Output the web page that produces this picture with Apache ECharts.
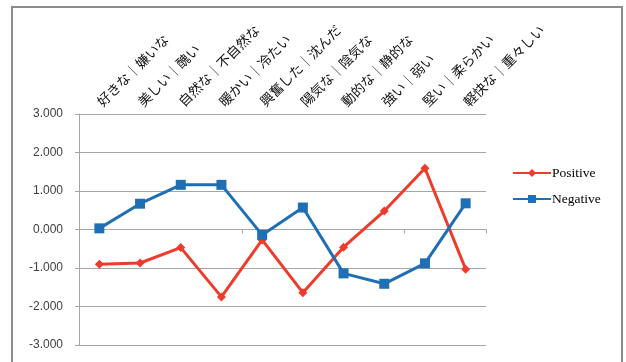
<!DOCTYPE html>
<html>
<head>
<meta charset="utf-8">
<script src="https://cdn.jsdelivr.net/npm/echarts@6/dist/echarts.min.js"></script>
<style>
  html, body { margin: 0; padding: 0; background: #fff; }
  #chart { width: 626px; height: 362px; }
</style>
</head>
<body>
<div id="chart"></div>
<script>
// Semantic differential pairs (category axis)
const categories = [
  '好きな｜嫌いな', '美しい｜醜い', '自然な｜不自然な', '暖かい｜冷たい', '興奮した｜沈んだ',
  '陽気な｜陰気な', '動的な｜静的な', '強い｜弱い', '堅い｜柔らかい', '軽快な｜重々しい'
];
// Mean scores per pair
const positiveValues = [-0.90, -0.87, -0.47, -1.75, -0.27, -1.64, -0.46, 0.48, 1.59, -1.03];
const negativeValues = [0.03, 0.67, 1.16, 1.16, -0.14, 0.57, -1.14, -1.41, -0.88, 0.68];
// Value axis range and step
const yMin = -3;
const yMax = 3;
const yStep = 1;

const RED = '#EF3B2C';
const BLUE = '#1F6FB5';
const GRID = '#A6A6A6';

const chart = echarts.init(document.getElementById('chart'), null, { renderer: 'canvas' });

chart.setOption({
  animation: false,
  backgroundColor: '#fff',
  graphic: [{
    type: 'rect',
    shape: { x: 12, y: 7, width: 610, height: 400 },
    style: { fill: 'none', stroke: '#8C8C8C', lineWidth: 2 },
    silent: true
  }],
  grid: { left: 79, top: 114, width: 407, height: 231, containLabel: false },
  legend: {
    orient: 'vertical',
    left: 507,
    top: 161,
    itemWidth: 38,
    itemHeight: 10,
    itemGap: 12,
    textStyle: { fontFamily: 'Liberation Serif', fontSize: 13.5, color: '#000', padding: [0, 0, 0, -4] },
    data: ['Positive', 'Negative']
  },
  xAxis: [{
    type: 'category',
    data: categories,
    position: 'bottom',
    boundaryGap: true,
    axisLine: { onZero: true, lineStyle: { color: GRID, width: 1 } },
    axisTick: { show: true, length: 4, lineStyle: { color: GRID } },
    axisLabel: { show: false },
    splitLine: { show: false }
  }, {
    type: 'category',
    data: categories,
    position: 'top',
    boundaryGap: true,
    axisLine: { show: false },
    axisTick: { show: false },
    splitLine: { show: false },
    axisLabel: {
      show: true,
      interval: 0,
      rotate: -45,
      align: 'left',
      verticalAlign: 'middle',
      margin: 10,
      fontFamily: 'Noto Sans CJK JP',
      fontSize: 13.5,
      color: '#111'
    }
  }],
  yAxis: {
    type: 'value',
    min: yMin,
    max: yMax,
    interval: yStep,
    axisLine: { show: true, lineStyle: { color: GRID, width: 1 } },
    axisTick: { show: true, length: 4, lineStyle: { color: GRID } },
    axisLabel: {
      margin: 16,
      fontFamily: 'Liberation Sans',
      fontSize: 12,
      color: '#404040',
      formatter: v => v.toFixed(3)
    },
    splitLine: { show: true, lineStyle: { color: GRID, width: 1 } }
  },
  series: [{
    name: 'Positive',
    type: 'line',
    data: positiveValues,
    symbol: 'diamond',
    symbolSize: 9,
    lineStyle: { color: RED, width: 3 },
    itemStyle: { color: RED },
    z: 3
  }, {
    name: 'Negative',
    type: 'line',
    data: negativeValues,
    symbol: 'rect',
    symbolSize: 10,
    lineStyle: { color: BLUE, width: 3 },
    itemStyle: { color: BLUE },
    z: 4
  }]
});
</script>
</body>
</html>
